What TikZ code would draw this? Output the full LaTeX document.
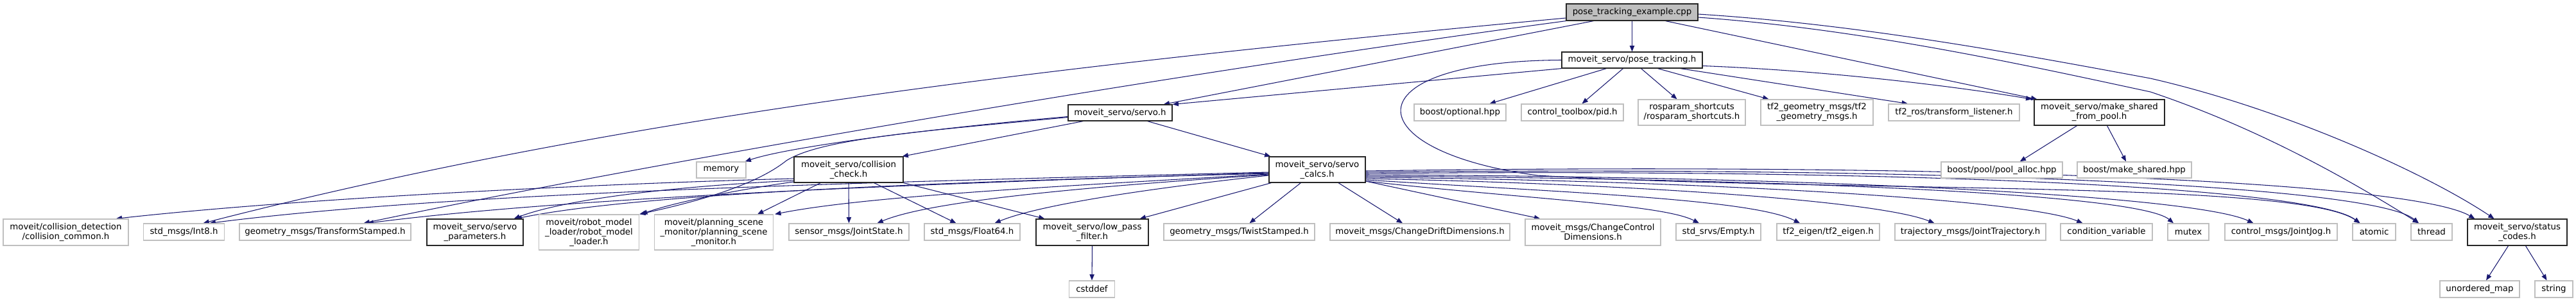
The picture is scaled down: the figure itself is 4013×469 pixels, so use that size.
\documentclass[tikz,border=0pt]{standalone}
\usepackage{fontspec}
\setmainfont{DejaVu Sans}
\usetikzlibrary{arrows.meta,calc,backgrounds}
\definecolor{edgec}{HTML}{191970}
\definecolor{extc}{HTML}{BFBFBF}
\definecolor{rootfill}{HTML}{BFBFBF}
\newcommand\nodefont{\fontsize{10}{11.25}\selectfont}
\tikzset{
  edge/.style={draw=edgec, line width=0.8pt, -{Triangle[length=7pt,width=5.5pt]}},
  nb/.style 2 args={rectangle, inner sep=0pt, minimum width=#1*0.75pt, minimum height=#2*0.75pt, align=center, font=\nodefont},
  ext/.style={draw=extc, line width=1pt, fill=white},
  doc/.style={draw=black!85, line width=0.9pt, fill=white},
  root/.style={draw=black!85, line width=0.9pt, fill=rootfill},
}
\begin{document}
\begin{tikzpicture}[x=0.75pt,y=-0.75pt]
\useasboundingbox (0,0) rectangle (4013,469);
% row 0
\node[root, nb={205}{26}] (cpp) at (2542.5,19) {pose\_tracking\_example.cpp};
% row 1
\node[doc, nb={219}{25}] (pt) at (2542.5,93.5) {moveit\_servo/pose\_tracking.h};
% row 2
\node[doc, nb={162}{25}] (servo) at (1745,175.5) {moveit\_servo/servo.h};
\node[ext, nb={143}{26}] (opt) at (2274.5,175) {boost/optional.hpp};
\node[ext, nb={159}{26}] (pid) at (2449.5,175) {control\_toolbox/pid.h};
\node[ext, nb={167}{40}] (ros) at (2635.5,175) {rosparam\_shortcuts\\/rosparam\_shortcuts.h};
\node[ext, nb={175}{40}] (tfgm) at (2830.5,175) {tf2\_geometry\_msgs/tf2\\\_geometry\_msgs.h};
\node[ext, nb={204}{26}] (tfl) at (3044,175) {tf2\_ros/transform\_listener.h};
\node[doc, nb={203}{40}] (msfp) at (3270.5,175) {moveit\_servo/make\_shared\\\_from\_pool.h};
% row 3
\node[ext, nb={77}{25}] (mem) at (1123.5,264.5) {memory};
\node[doc, nb={170}{40}] (cc) at (1322,264) {moveit\_servo/collision\\\_check.h};
\node[doc, nb={150}{40}] (sc) at (2052,264) {moveit\_servo/servo\\\_calcs.h};
\node[ext, nb={189}{25}] (pool) at (3118.5,264.5) {boost/pool/pool\_alloc.hpp};
\node[ext, nb={178}{25}] (mks) at (3325,264.5) {boost/make\_shared.hpp};
% row 4
\node[ext, nb={195}{41}] (ccom) at (102.5,361.5) {moveit/collision\_detection\\/collision\_common.h};
\node[ext, nb={126}{26}] (int8) at (286.5,361) {std\_msgs/Int8.h};
\node[ext, nb={267}{26}] (tfs) at (506.5,361) {geometry\_msgs/TransformStamped.h};
\node[doc, nb={150}{41}] (sp) at (740,361.5) {moveit\_servo/servo\\\_parameters.h};
\node[ext, nb={156}{55}] (rml) at (917.5,361.5) {moveit/robot\_model\\\_loader/robot\_model\\\_loader.h};
\node[ext, nb={185}{55}] (psm) at (1112,361.5) {moveit/planning\_scene\\\_monitor/planning\_scene\\\_monitor.h};
\node[ext, nb={187}{26}] (js) at (1322.5,361) {sensor\_msgs/JointState.h};
\node[ext, nb={149}{26}] (f64) at (1514.5,361) {std\_msgs/Float64.h};
\node[doc, nb={175}{41}] (lpf) at (1701.5,361.5) {moveit\_servo/low\_pass\\\_filter.h};
\node[ext, nb={235}{26}] (twist) at (1930.5,361) {geometry\_msgs/TwistStamped.h};
\node[ext, nb={280}{26}] (drift) at (2212,361) {moveit\_msgs/ChangeDriftDimensions.h};
\node[ext, nb={211}{41}] (ctrl) at (2481.5,361.5) {moveit\_msgs/ChangeControl\\Dimensions.h};
\node[ext, nb={132}{26}] (empty) at (2677,361) {std\_srvs/Empty.h};
\node[ext, nb={160}{26}] (eigen) at (2848,361) {tf2\_eigen/tf2\_eigen.h};
\node[ext, nb={235}{26}] (traj) at (3069.5,361) {trajectory\_msgs/JointTrajectory.h};
\node[ext, nb={143}{26}] (cv) at (3281.5,361) {condition\_variable};
\node[ext, nb={64}{26}] (mutex) at (3409,361) {mutex};
\node[ext, nb={175}{26}] (jog) at (3553.5,361) {control\_msgs/JointJog.h};
\node[ext, nb={67}{26}] (atomic) at (3698.5,361) {atomic};
\node[ext, nb={64}{26}] (thread) at (3788,361) {thread};
\node[doc, nb={155}{41}] (stc) at (3921.5,361.5) {moveit\_servo/status\\\_codes.h};
% row 5
\node[ext, nb={71}{26}] (cst) at (1701,450) {cstddef};
\node[ext, nb={124}{26}] (umap) at (3863,450) {unordered\_map};
\node[ext, nb={59}{26}] (str) at (3978.5,450) {string};

\begin{scope}[on background layer]
% from pose_tracking_example.cpp
\draw[edge] (cpp.south) -- (pt.north);
\draw[edge] ($(cpp.south)+(-60,0)$) -- ($(servo.north east)+(-14,0)$);
\draw[edge] ($(cpp.west)+(0,9)$) .. controls (1600,106) and (950,185) .. ($(int8.north)+(30,0)$);
\draw[edge] (cpp.south west) .. controls (1800,118) and (1000,256) .. ($(tfs.north)+(60,0)$);
\draw[edge] ($(cpp.south)+(52,0)$) -- ($(msfp.north west)+(5,0)$);
\draw[edge] ($(cpp.east)+(0,8)$) .. controls (2900,45) and (3150,100) .. (3350,143) .. controls (3520,200) and (3660,280) .. ($(thread.north)+(-20,0)$);
\draw[edge] ($(cpp.east)+(0,3)$) .. controls (2900,38) and (3150,85) .. (3350,122) .. controls (3560,170) and (3780,270) .. ($(stc.north)+(-36,0)$);
% from pose_tracking.h
\draw[edge] (pt.south west) -- (servo.north east);
\draw[edge] (pt.west) .. controls (2100,95) and (2110,235) .. (2395,273) .. controls (2850,300) and (3580,280) .. ($(atomic.north)+(-22,0)$);
\draw[edge] ($(pt.south)+(-40,0)$) -- ($(opt.north)+(46,0)$);
\draw[edge] ($(pt.south)+(-14,0)$) -- ($(pid.north)+(15,0)$);
\draw[edge] ($(pt.south)+(14,0)$) -- ($(ros.north)+(-23,0)$);
\draw[edge] ($(pt.south)+(40,0)$) -- ($(tfgm.north)+(-75,0)$);
\draw[edge] ($(pt.south east)+(-35,0)$) -- ($(tfl.north)+(-72,0)$);
\draw[edge] ($(pt.east)+(0,9)$) .. controls (2850,110) and (3050,135) .. ($(msfp.north west)+(-3,0)$);
% from servo.h
\draw[edge] ($(servo.west)+(0,6)$) .. controls (1450,200) and (1230,228) .. ($(mem.north east)+(-2,0)$);
\draw[edge] ($(servo.west)+(0,7)$) .. controls (1450,203) and (1280,215) .. (1225,250) .. controls (1175,290) and (1080,315) .. (rml.north east);
\draw[edge] ($(servo.south west)+(24,0)$) -- ($(cc.north east)+(-2,0)$);
\draw[edge] ($(servo.south east)+(-39,0)$) -- ($(sc.north west)+(3,0)$);
% from collision_check.h
\draw[edge] ($(cc.west)+(0,14)$) .. controls (1000,284) and (500,305) .. ($(ccom.north east)+(-20,0)$);
\draw[edge] ($(cc.west)+(0,17)$) .. controls (1050,290) and (880,310) .. ($(sp.north east)+(-15,0)$);
\draw[edge] ($(cc.west)+(0,19)$) .. controls (1150,295) and (1050,315) .. ($(rml.north east)+(3,0)$);
\draw[edge] ($(cc.south west)+(42,0)$) -- ($(psm.north)+(68,0)$);
\draw[edge] (cc.south) -- (js.north);
\draw[edge] ($(cc.south east)+(-46,0)$) -- ($(f64.north)+(-25,0)$);
\draw[edge] (cc.south east) -- ($(lpf.north west)+(14,0)$);
% from servo_calcs.h (left)
\draw[edge] ($(sc.west)+(0,4)$) .. controls (1300,285) and (700,300) .. ($(int8.north)+(40,0)$);
\draw[edge] ($(sc.west)+(0,5)$) .. controls (1300,290) and (850,312) .. ($(tfs.north)+(66,0)$);
\draw[edge] ($(sc.west)+(0,6)$) .. controls (1500,282) and (1000,300) .. ($(sp.north east)+(-12,0)$);
\draw[edge] ($(sc.west)+(0,7)$) .. controls (1650,290) and (1350,305) .. ($(psm.north east)+(2,0)$);
\draw[edge] ($(sc.west)+(0,8)$) .. controls (1700,290) and (1450,312) .. ($(js.north)+(44,0)$);
\draw[edge] ($(sc.west)+(0,9)$) .. controls (1800,292) and (1620,318) .. ($(f64.north)+(35,0)$);
\draw[edge] ($(sc.south west)+(4,0)$) -- ($(lpf.north east)+(-14,0)$);
\draw[edge] ($(sc.south west)+(50,0)$) -- ($(twist.north)+(16,0)$);
\draw[edge] ($(sc.south)+(33,0)$) -- ($(drift.north)+(-27,0)$);
% from servo_calcs.h (right)
\draw[edge] ($(sc.east)+(0,18)$) -- ($(ctrl.north west)+(24,0)$);
\draw[edge] ($(sc.east)+(0,18)$) .. controls (2380,310) and (2590,318) .. ($(empty.north)+(-30,0)$);
\draw[edge] ($(sc.east)+(0,16)$) .. controls (2450,300) and (2730,310) .. ($(eigen.north)+(-44,0)$);
\draw[edge] ($(sc.east)+(0,14)$) .. controls (2500,285) and (2920,310) .. ($(traj.north)+(-56,0)$);
\draw[edge] ($(sc.east)+(0,12)$) .. controls (2600,280) and (3150,308) .. ($(cv.north)+(-37,0)$);
\draw[edge] ($(sc.east)+(0,10)$) .. controls (2750,278) and (3330,300) .. ($(mutex.north)+(-23,0)$);
\draw[edge] ($(sc.east)+(0,8)$) .. controls (2850,275) and (3420,305) .. ($(jog.north)+(-43,0)$);
\draw[edge] ($(sc.east)+(0,6)$) .. controls (2950,262) and (3600,290) .. ($(atomic.north)+(-22,0)$);
\draw[edge] ($(sc.east)+(0,4)$) .. controls (3050,258) and (3700,290) .. ($(thread.north)+(-20,0)$);
\draw[edge] ($(sc.east)+(0,2)$) .. controls (3100,252) and (3760,285) .. ($(stc.north west)+(12,0)$);
% others
\draw[edge] ($(msfp.south)+(-35,0)$) -- ($(pool.north east)+(-67,0)$);
\draw[edge] ($(msfp.south)+(12,0)$) -- ($(mks.north)+(-13,0)$);
\draw[edge] ($(stc.south)+(-14,0)$) -- ($(umap.north)+(10,0)$);
\draw[edge] ($(stc.south)+(13,0)$) -- ($(str.north)+(-11,0)$);
\draw[edge] (lpf.south) -- (cst.north);
\end{scope}
\end{tikzpicture}
\end{document}
